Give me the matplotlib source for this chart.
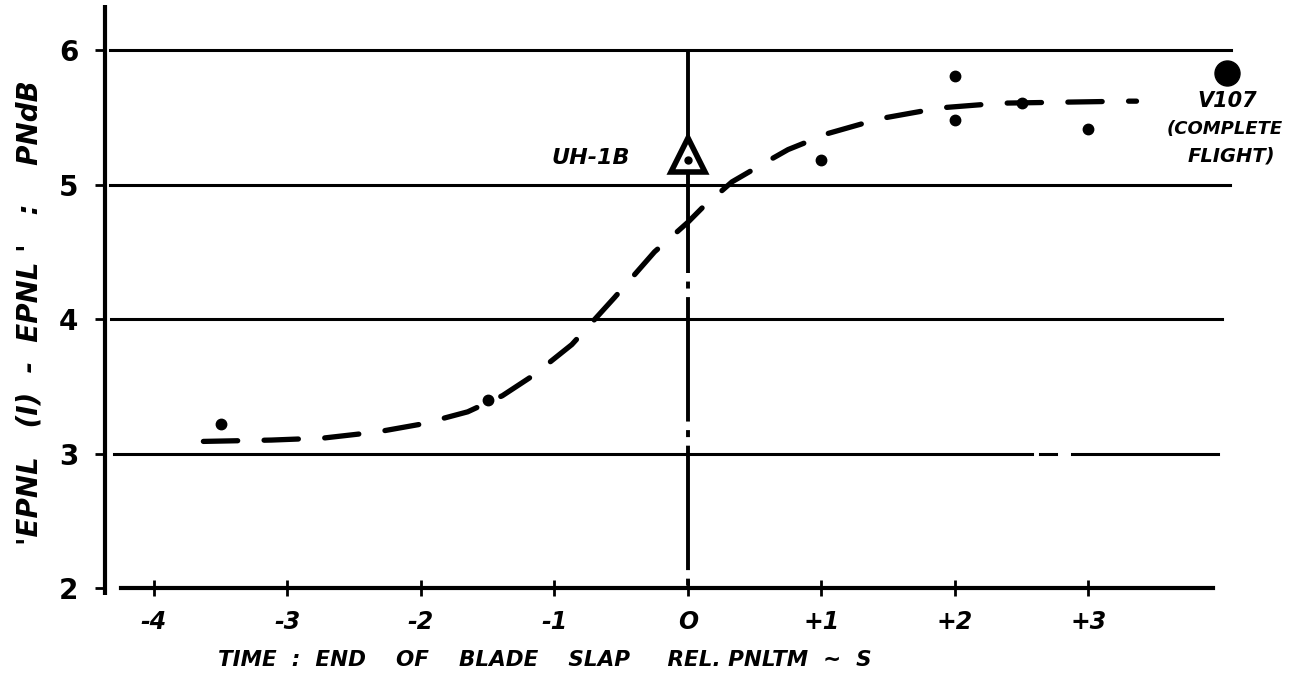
import matplotlib
matplotlib.use('Agg')
from matplotlib import pyplot as plt

# measured points (time rel. PNLTM ~ s, EPNL difference ~ PNdB)
dot_x = [-3.5, -1.5, 1.0, 2.0, 2.0, 2.5, 3.0]
dot_y = [3.22, 3.40, 5.18, 5.81, 5.48, 5.61, 5.41]

uh1b_x, uh1b_y = 0.0, 5.22
v107_x, v107_y = 4.04, 5.83

# hand-faired trend curve
curve_x = [-3.63, -3.12, -2.73, -2.33, -1.99, -1.65, -1.39, -1.16, -0.87,
           -0.55, -0.25, 0.0, 0.11, 0.33, 0.59, 0.75, 1.05, 1.44, 1.89,
           2.34, 2.85, 3.29, 3.36]
curve_y = [3.09, 3.10, 3.115, 3.16, 3.22, 3.31, 3.43, 3.58, 3.81,
           4.16, 4.50, 4.72, 4.83, 5.02, 5.17, 5.26, 5.38, 5.49, 5.57,
           5.605, 5.613, 5.62, 5.62]

grid_levels = [3, 4, 5, 6]
grid_right = [3.97, 4.0, 4.06, 4.07]
grid_left = [-4.30, -4.32, -4.33, -4.33]

x_ticks = [-4, -3, -2, -1, 0, 1, 2, 3]
x_ticklabels = ['-4', '-3', '-2', '-1', 'O', '+1', '+2', '+3']
y_ticks = [2, 3, 4, 5, 6]

font = dict(family='DejaVu Sans', weight='bold', style='italic')

fig = plt.figure(figsize=(13.02, 6.8), dpi=100)
ax = fig.add_axes([105 / 1302, 92 / 680, (1213 - 105) / 1302, (588 - 5) / 680])
ax.set_xlim(-4.367, 3.933)
ax.set_ylim(2, 6.335)
for s in ax.spines.values():
    s.set_visible(False)

# axes drawn by hand (as on the original sheet)
ax.plot([-4.367, -4.367], [1.95, 6.335], color='k', lw=3, clip_on=False,
        solid_capstyle='butt')
ax.plot([-4.25, 3.933], [2, 2], color='k', lw=3, clip_on=False)

# horizontal rules
for lev, x0, x1 in zip(grid_levels, grid_left, grid_right):
    if lev == 3:
        # the scan shows a break in this rule near +2.7
        for a, b in [(x0, 2.58), (2.64, 2.76), (2.88, x1)]:
            ax.plot([a, b], [lev, lev], color='k', lw=2.2, clip_on=False)
    else:
        ax.plot([x0, x1], [lev, lev], color='k', lw=2.2, clip_on=False)

# vertical reference at t = 0
ax.plot([0, 0], [6, 4.34], color='k', lw=2.8, solid_capstyle='butt')
ax.plot([0, 0], [4.34, 2], color='k', lw=2.8,
        linestyle=(32, (32, 2.2, 1.8, 2.2)))

# trend curve
ax.plot(curve_x, curve_y, color='k', lw=3.8,
        linestyle=(0, (6.5, 5)), dash_capstyle='round')

# data
ax.plot(dot_x, dot_y, 'o', color='k', ms=7.5, clip_on=False)
ax.plot([uh1b_x], [uh1b_y], '^', ms=25, mfc='white', mec='k', mew=4)
ax.plot([uh1b_x], [uh1b_y - 0.04], 'o', color='k', ms=5)
ax.plot([v107_x], [v107_y], 'o', color='k', ms=18, clip_on=False)

# annotations
ax.text(-0.73, 5.2, 'UH-1B', fontsize=16, ha='center', va='center', **font)
ax.text(4.04, 5.62, 'V107', fontsize=15, ha='center', va='center', **font)
ax.text(4.02, 5.41, '(COMPLETE', fontsize=13, ha='center', va='center', **font)
ax.text(4.07, 5.21, 'FLIGHT)', fontsize=14, ha='center', va='center', **font)

# ticks
ax.set_xticks(x_ticks)
ax.set_xticklabels(x_ticklabels, fontsize=17, **font)
ax.set_yticks(y_ticks)
ax.set_yticklabels([str(v) for v in y_ticks], fontsize=20, weight='bold',
                   family='DejaVu Sans')
ax.tick_params(axis='x', direction='inout', length=12, width=2, pad=10)
ax.tick_params(axis='y', direction='out', length=7, width=2, pad=12)

ax.set_xlabel('TIME  :  END    OF    BLADE    SLAP     REL. PNLTM  ~  S',
              fontsize=15.5, **font)
ax.xaxis.set_label_coords((545 - 105) / (1213 - 105), -62 / 583)
ax.set_ylabel("'EPNL   (I)  -  EPNL '   :    PNdB", fontsize=20, **font)
ax.yaxis.set_label_coords(-(105 - 44) / (1213 - 105), (588 - 313) / 583)

fig.savefig('out.png', dpi=100)
